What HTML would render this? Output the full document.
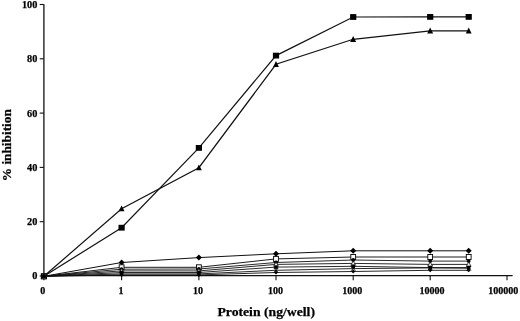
<!DOCTYPE html>
<html><head><meta charset="utf-8"><title>Inhibition chart</title>
<style>html,body{margin:0;padding:0;background:#fff}svg{display:block}.t text{font-family:"Liberation Serif","Times New Roman",serif;font-weight:bold;stroke:#000;stroke-width:0.25px}</style></head>
<body><svg width="520" height="321" viewBox="0 0 520 321">
<rect width="520" height="321" fill="#fff"/>
<g fill="none" stroke="#111" stroke-width="1.1">
<path d="M43.9,4.3V276.2M43.9,275.7H512.6" stroke-width="1.3"/>
<path d="M39.7,276.0H43.9"/>
<path d="M39.7,221.7H43.9"/>
<path d="M39.7,167.4H43.9"/>
<path d="M39.7,113.1H43.9"/>
<path d="M39.7,58.8H43.9"/>
<path d="M39.7,4.5H43.9"/>
<path d="M43.9,275.7V280.2"/>
<path d="M121.6,275.7V280.2"/>
<path d="M198.9,275.7V280.2"/>
<path d="M276.0,275.7V280.2"/>
<path d="M353.2,275.7V280.2"/>
<path d="M430.2,275.7V280.2"/>
<path d="M507.0,275.7V280.2"/>
<polyline points="43.9,276.3 121.6,227.7 198.9,147.9 276.0,55.6 353.2,17.0 430.2,16.9 468.7,16.9" stroke-width="1.2"/>
<polyline points="43.9,276.3 121.6,208.7 198.9,167.7 276.0,64.3 353.2,39.3 430.2,30.9 468.7,30.9" stroke-width="1.2"/>
<polyline points="43.9,276.3 121.6,262.5 198.9,257.6 276.0,253.8 353.2,250.8 430.2,250.8 468.7,250.8" stroke-width="1.0"/>
<polyline points="43.9,276.3 121.6,267.3 198.9,267.3 276.0,258.9 353.2,257.0 430.2,257.0 468.7,257.0" stroke-width="0.95"/>
<polyline points="43.9,276.3 121.6,269.2 198.9,269.0 276.0,262.5 353.2,260.0 430.2,261.1 468.7,261.1" stroke-width="0.9"/>
<polyline points="43.9,276.3 121.6,270.9 198.9,270.9 276.0,264.4 353.2,263.4 430.2,264.4 468.7,264.4" stroke-width="0.9"/>
<polyline points="43.9,276.3 121.6,272.5 198.9,272.5 276.0,267.1 353.2,266.3 430.2,267.6 468.7,267.6" stroke-width="0.9"/>
<polyline points="43.9,276.3 121.6,273.9 198.9,273.9 276.0,270.3 353.2,268.6 430.2,267.9 468.7,268.2" stroke-width="0.9"/>
<polyline points="43.9,276.3 121.6,274.9 198.9,274.9 276.0,272.5 353.2,271.5 430.2,270.3 468.7,270.3" stroke-width="0.9"/>
</g>
<rect x="40.8" y="273.4" width="6.2" height="5.8" fill="#000"/>
<rect x="118.5" y="224.8" width="6.2" height="5.8" fill="#000"/>
<rect x="195.8" y="145.0" width="6.2" height="5.8" fill="#000"/>
<rect x="272.9" y="52.7" width="6.2" height="5.8" fill="#000"/>
<rect x="350.1" y="14.1" width="6.2" height="5.8" fill="#000"/>
<rect x="427.1" y="14.0" width="6.2" height="5.8" fill="#000"/>
<rect x="465.6" y="14.0" width="6.2" height="5.8" fill="#000"/>
<polygon points="43.9,273.0 46.9,278.9 40.9,278.9" fill="#000"/>
<polygon points="121.6,205.4 124.5,211.3 118.6,211.3" fill="#000"/>
<polygon points="198.9,164.4 201.8,170.3 196.0,170.3" fill="#000"/>
<polygon points="276.0,61.0 278.9,66.9 273.1,66.9" fill="#000"/>
<polygon points="353.2,36.0 356.1,41.9 350.2,41.9" fill="#000"/>
<polygon points="430.2,27.6 433.1,33.5 427.2,33.5" fill="#000"/>
<polygon points="468.7,27.6 471.6,33.5 465.8,33.5" fill="#000"/>
<polygon points="43.9,273.3 46.9,276.3 43.9,279.3 40.9,276.3" fill="#000"/>
<polygon points="121.6,259.5 124.6,262.5 121.6,265.5 118.6,262.5" fill="#000"/>
<polygon points="198.9,254.6 201.9,257.6 198.9,260.6 195.9,257.6" fill="#000"/>
<polygon points="276.0,250.8 279.0,253.8 276.0,256.8 273.0,253.8" fill="#000"/>
<polygon points="353.2,247.8 356.2,250.8 353.2,253.8 350.2,250.8" fill="#000"/>
<polygon points="430.2,247.8 433.2,250.8 430.2,253.8 427.2,250.8" fill="#000"/>
<polygon points="468.7,247.8 471.7,250.8 468.7,253.8 465.7,250.8" fill="#000"/>
<rect x="41.5" y="273.8" width="4.8" height="5.0" fill="#fff" stroke="#000" stroke-width="0.9"/>
<rect x="119.2" y="264.8" width="4.8" height="5.0" fill="#fff" stroke="#000" stroke-width="0.9"/>
<rect x="196.5" y="264.8" width="4.8" height="5.0" fill="#fff" stroke="#000" stroke-width="0.9"/>
<rect x="273.6" y="256.4" width="4.8" height="5.0" fill="#fff" stroke="#000" stroke-width="0.9"/>
<rect x="350.8" y="254.5" width="4.8" height="5.0" fill="#fff" stroke="#000" stroke-width="0.9"/>
<rect x="427.8" y="254.5" width="4.8" height="5.0" fill="#fff" stroke="#000" stroke-width="0.9"/>
<rect x="466.3" y="254.5" width="4.8" height="5.0" fill="#fff" stroke="#000" stroke-width="0.9"/>
<circle cx="43.9" cy="276.3" r="1.9" fill="#000"/>
<circle cx="121.6" cy="269.2" r="1.9" fill="#000"/>
<circle cx="198.9" cy="269.0" r="1.9" fill="#000"/>
<circle cx="276.0" cy="262.5" r="1.9" fill="#000"/>
<circle cx="353.2" cy="260.0" r="1.9" fill="#000"/>
<circle cx="430.2" cy="261.1" r="1.9" fill="#000"/>
<circle cx="468.7" cy="261.1" r="1.9" fill="#000"/>
<polygon points="43.9,273.9 46.3,278.2 41.5,278.2" fill="#fff" stroke="#000" stroke-width="0.7"/>
<polygon points="121.6,268.5 124.0,272.8 119.2,272.8" fill="#fff" stroke="#000" stroke-width="0.7"/>
<polygon points="198.9,268.5 201.3,272.8 196.5,272.8" fill="#fff" stroke="#000" stroke-width="0.7"/>
<polygon points="276.0,262.0 278.4,266.3 273.6,266.3" fill="#fff" stroke="#000" stroke-width="0.7"/>
<polygon points="353.2,261.0 355.6,265.3 350.8,265.3" fill="#fff" stroke="#000" stroke-width="0.7"/>
<polygon points="430.2,262.0 432.6,266.3 427.8,266.3" fill="#fff" stroke="#000" stroke-width="0.7"/>
<polygon points="468.7,262.0 471.1,266.3 466.3,266.3" fill="#fff" stroke="#000" stroke-width="0.7"/>
<rect x="42.1" y="274.5" width="3.6" height="3.6" fill="#000"/>
<rect x="119.8" y="270.7" width="3.6" height="3.6" fill="#000"/>
<rect x="197.1" y="270.7" width="3.6" height="3.6" fill="#000"/>
<rect x="274.2" y="265.3" width="3.6" height="3.6" fill="#000"/>
<rect x="351.4" y="264.5" width="3.6" height="3.6" fill="#000"/>
<rect x="428.4" y="265.8" width="3.6" height="3.6" fill="#000"/>
<rect x="466.9" y="265.8" width="3.6" height="3.6" fill="#000"/>
<path d="M41.7,274.1L46.1,278.5M41.7,278.5L46.1,274.1" stroke="#000" stroke-width="0.9" fill="none"/>
<path d="M119.4,271.7L123.8,276.1M119.4,276.1L123.8,271.7" stroke="#000" stroke-width="0.9" fill="none"/>
<path d="M196.7,271.7L201.1,276.1M196.7,276.1L201.1,271.7" stroke="#000" stroke-width="0.9" fill="none"/>
<path d="M273.8,268.1L278.2,272.5M273.8,272.5L278.2,268.1" stroke="#000" stroke-width="0.9" fill="none"/>
<path d="M351.0,266.4L355.4,270.8M351.0,270.8L355.4,266.4" stroke="#000" stroke-width="0.9" fill="none"/>
<path d="M428.0,265.7L432.4,270.1M428.0,270.1L432.4,265.7" stroke="#000" stroke-width="0.9" fill="none"/>
<path d="M466.5,266.0L470.9,270.4M466.5,270.4L470.9,266.0" stroke="#000" stroke-width="0.9" fill="none"/>
<polygon points="43.9,274.3 45.9,276.3 43.9,278.3 41.9,276.3" fill="#000"/>
<polygon points="121.6,272.9 123.6,274.9 121.6,276.9 119.6,274.9" fill="#000"/>
<polygon points="198.9,272.9 200.9,274.9 198.9,276.9 196.9,274.9" fill="#000"/>
<polygon points="276.0,270.5 278.0,272.5 276.0,274.5 274.0,272.5" fill="#000"/>
<polygon points="353.2,269.5 355.2,271.5 353.2,273.5 351.2,271.5" fill="#000"/>
<polygon points="430.2,268.3 432.2,270.3 430.2,272.3 428.2,270.3" fill="#000"/>
<polygon points="468.7,268.3 470.7,270.3 468.7,272.3 466.7,270.3" fill="#000"/>
<g class="t" fill="#000">
<text x="37.4" y="279.4" font-size="10.3" text-anchor="end">0</text>
<text x="37.4" y="225.1" font-size="10.3" text-anchor="end">20</text>
<text x="37.4" y="170.8" font-size="10.3" text-anchor="end">40</text>
<text x="37.4" y="116.5" font-size="10.3" text-anchor="end">60</text>
<text x="37.4" y="62.2" font-size="10.3" text-anchor="end">80</text>
<text x="37.4" y="7.9" font-size="10.3" text-anchor="end">100</text>
<text x="42.8" y="294.3" font-size="10" text-anchor="middle">0</text>
<text x="120.9" y="294.3" font-size="10" text-anchor="middle">1</text>
<text x="198.0" y="294.3" font-size="10" text-anchor="middle">10</text>
<text x="275.4" y="294.3" font-size="10" text-anchor="middle">100</text>
<text x="352.3" y="294.3" font-size="10" text-anchor="middle">1000</text>
<text x="431.9" y="294.3" font-size="10" text-anchor="middle">10000</text>
<text x="503.3" y="294.3" font-size="10" text-anchor="middle">100000</text>
<text x="266.2" y="316.3" font-size="13.5" textLength="97.5" lengthAdjust="spacingAndGlyphs" text-anchor="middle">Protein (ng/well)</text>
<text transform="translate(10.8,145.2) rotate(-90)" font-size="13.3" text-anchor="middle">% inhibition</text>
</g>
</svg></body></html>
